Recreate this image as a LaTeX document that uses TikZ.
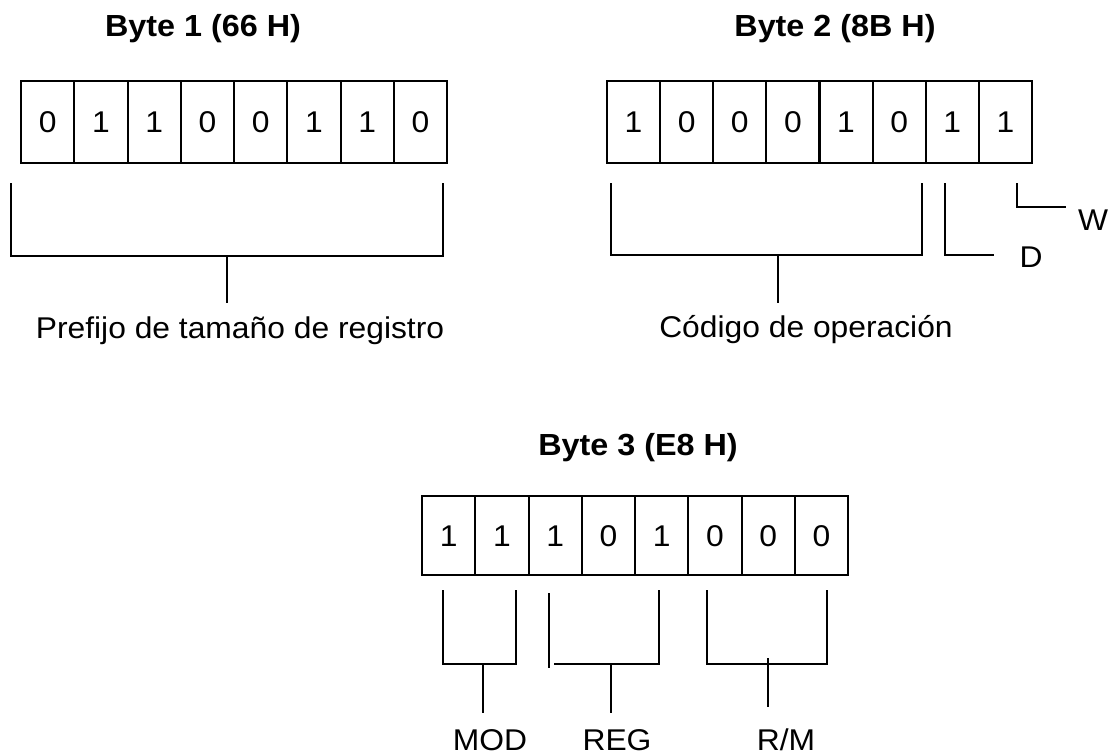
\documentclass[tikz,border=0pt]{standalone}
\usepackage{fontspec}
\setmainfont{Liberation Sans}[FakeStretch=1.06]
\begin{document}
\begin{tikzpicture}[x=1pt,y=-1pt,
  line width=2pt,
  bit/.style={draw, line width=2pt, inner sep=0pt, outer sep=0pt,
    minimum width=53.25pt, text height=21pt, text depth=0pt,
    font=\fontsize{30}{36}\selectfont},
  title/.style={anchor=base, inner sep=0pt, font=\fontsize{30.5}{36}\selectfont\bfseries},
  lbl/.style={anchor=base, inner sep=0pt, font=\fontsize{30}{36}\selectfont},
  brk/.style={line width=2pt, line cap=rect}]
\useasboundingbox (0,0) rectangle (1115,755);

% --- Byte 1 ---
\node[title] (t1) at (203,36) {Byte 1 (66 H)};
\foreach \v [count=\i] in {0,1,1,0,0,1,1,0}
  \node[bit, minimum height=82pt] (a\i) at ({21+53.25*(\i-0.5)},122) {\v};
\draw[brk] (11,184) -- (11,256) -- (443,256) -- (443,184);
\coordinate (s1) at (227,256);
\coordinate (e1) at (227,303);
\draw (s1) -- (e1);
\node[lbl] (p1) at (240,338) {Prefijo de tamaño de registro};

% --- Byte 2 ---
\node[title] (t2) at (835,36) {Byte 2 (8B H)};
\foreach \v [count=\i] in {1,0,0,0,1,0,1,1}
  \node[bit, minimum height=82pt] (b\i) at ({607+53.125*(\i-0.5)},122) {\v};
\draw[brk] (611,184) -- (611,255) -- (922,255) -- (922,184);
\coordinate (s2) at (778,255);
\coordinate (e2) at (778,303);
\draw (s2) -- (e2);
\node[lbl] (p2) at (806,337) {Código de operación};
% D bit
\coordinate (dTop) at (945,184);
\coordinate (dEnd) at (993,255);
\draw[brk] (dTop) |- (dEnd);
\node[lbl] (d) at (1031,267) {D};
% W bit
\coordinate (wTop) at (1017,184);
\coordinate (wEnd) at (1065,207);
\draw[brk] (wTop) |- (wEnd);
\node[lbl] (w) at (1093,230) {W};

% --- Byte 3 ---
\node[title] (t3) at (638,455) {Byte 3 (E8 H)};
\foreach \v [count=\i] in {1,1,1,0,1,0,0,0}
  \node[bit, minimum height=79pt] (c\i) at ({422+53.25*(\i-0.5)},535.5) {\v};
% MOD
\draw[brk] (443,591) -- (443,664) -- (516,664) -- (516,591);
\draw (483,664) -- (483,713);
\node[lbl] (mod) at (490,750) {MOD};
% REG
\draw[brk] (549,594) -- (549,667);
\draw[brk] (555,664) -- (659,664) -- (659,591);
\draw (611,664) -- (611,713);
\node[lbl] (reg) at (617,750) {REG};
% R/M
\draw[brk] (707,591) -- (707,664) -- (827,664) -- (827,591);
\draw (768,658) -- (768,707);
\node[lbl] (rm) at (786,750) {R/M};
\end{tikzpicture}
\end{document}
